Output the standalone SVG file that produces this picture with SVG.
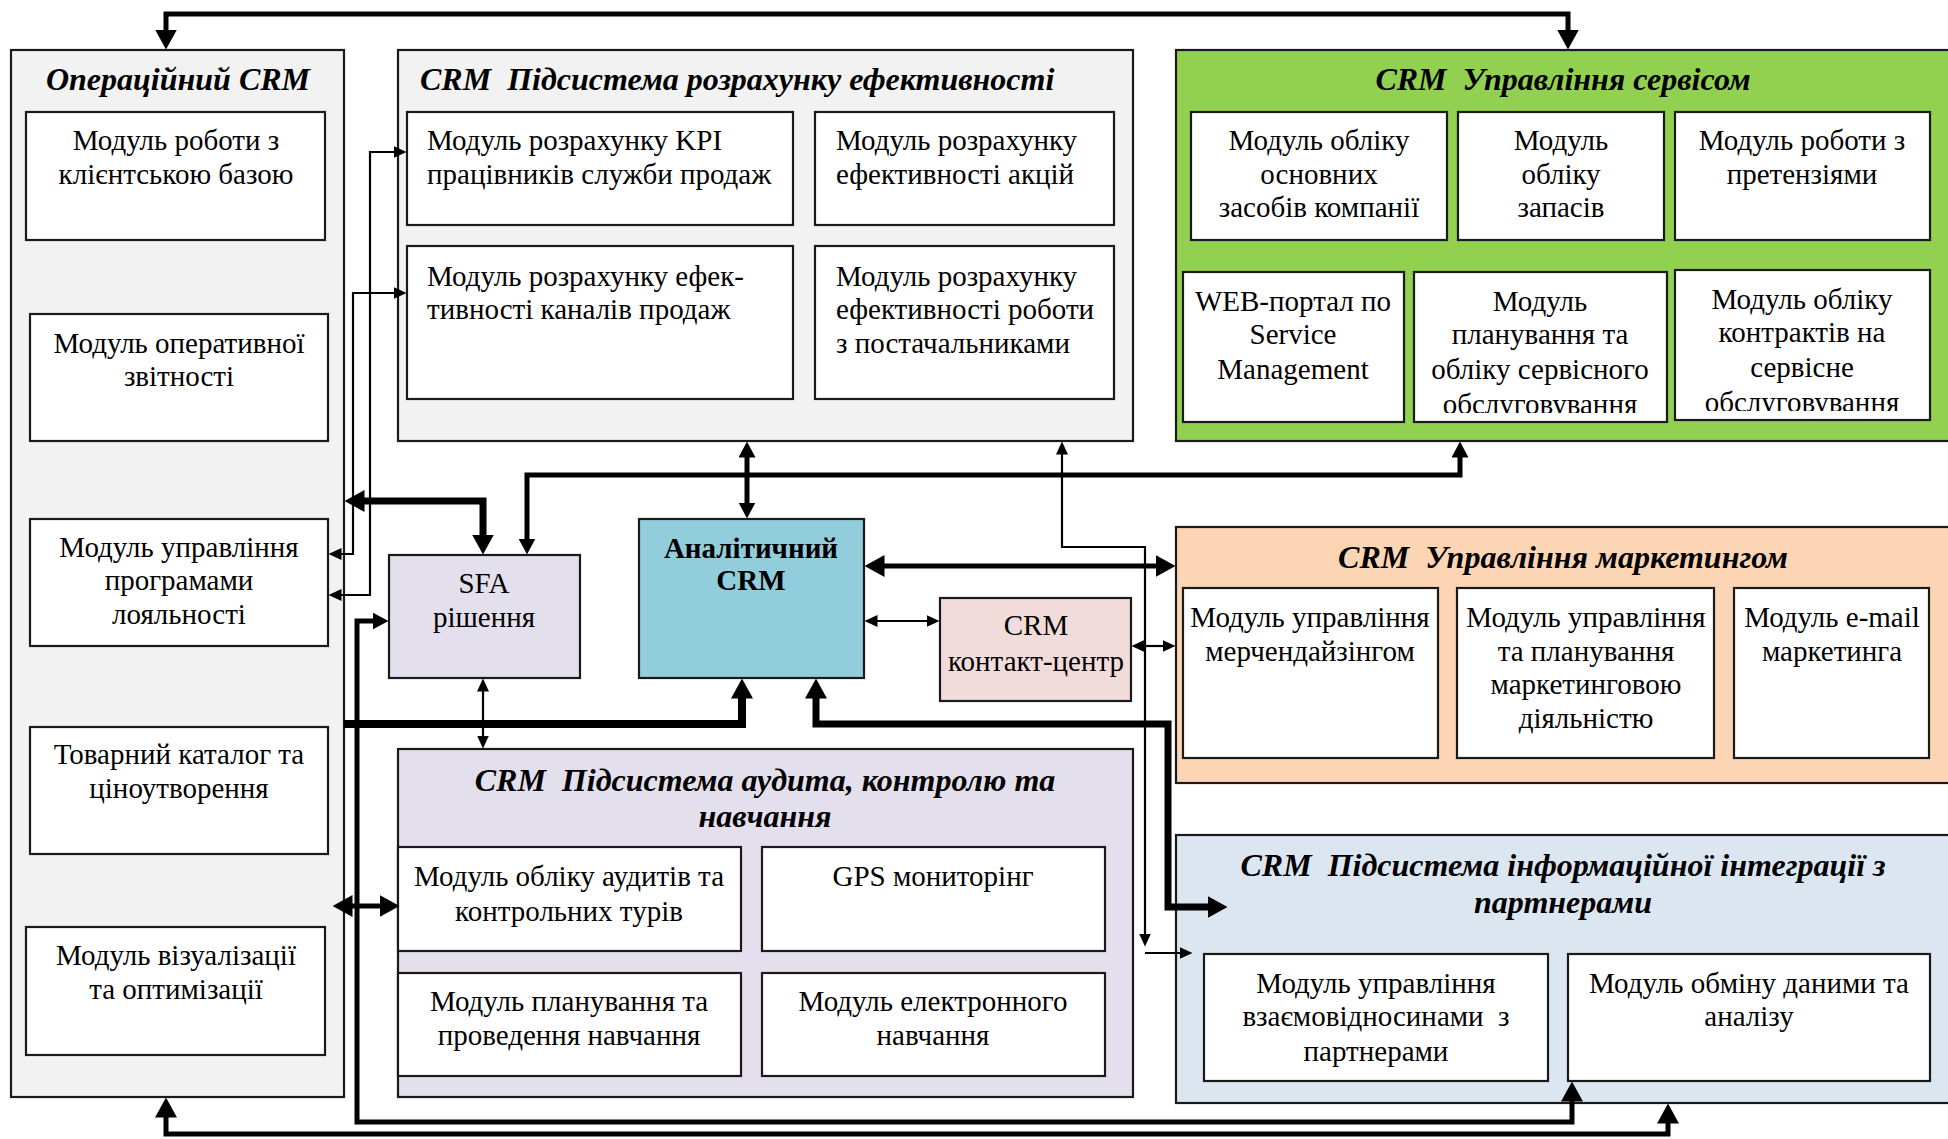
<svg xmlns="http://www.w3.org/2000/svg" width="1948" height="1139" viewBox="0 0 1948 1139">
<defs>
<style>
.t{font-family:'Liberation Serif','Times New Roman',Tinos,'DejaVu Serif',serif;font-size:29px;fill:#000}
.c{text-anchor:middle}
.h{font-weight:bold;font-style:italic;font-size:32px}
.b{font-weight:bold}
.box{fill:#fff;stroke:#1a1a1a;stroke-width:2.2}
.grp{stroke:#1a1a1a;stroke-width:2.2}
.ln{fill:none;stroke:#000;stroke-linejoin:miter}
.w2{stroke-width:2.2}
.w5{stroke-width:5}
.w7{stroke-width:7}
</style>
<marker id="aB" markerUnits="userSpaceOnUse" markerWidth="20" markerHeight="22" viewBox="0 0 20 22" refX="0.5" refY="11" orient="auto-start-reverse"><path d="M0,0L20,11L0,22z" fill="#000"/></marker>
<marker id="aM" markerUnits="userSpaceOnUse" markerWidth="16" markerHeight="17" viewBox="0 0 16 17" refX="0.5" refY="8.5" orient="auto-start-reverse"><path d="M0,0L16,8.5L0,17z" fill="#000"/></marker>
<marker id="aS" markerUnits="userSpaceOnUse" markerWidth="13" markerHeight="12" viewBox="0 0 13 12" refX="0.5" refY="6" orient="auto-start-reverse"><path d="M0,0L13,6L0,12z" fill="#000"/></marker>
<clipPath id="cg5"><rect x="1414" y="272" width="253" height="141"/></clipPath>
<clipPath id="cg6"><rect x="1675" y="270" width="255" height="141"/></clipPath>
</defs>
<rect width="1948" height="1139" fill="#fff"/>

<g id="op-crm">
<rect class="grp" x="11" y="50" width="333" height="1047" fill="#F2F2F2"/>
<text class="t h c" x="178" y="90">Операційний CRM</text>
<g id="op-client"><rect class="box" x="26" y="112" width="299" height="128"/>
<text class="t c"><tspan x="176" y="150">Модуль роботи з</tspan><tspan x="176" y="184">клієнтською базою</tspan></text></g>
<g id="op-report"><rect class="box" x="30" y="314" width="298" height="127"/>
<text class="t c"><tspan x="179" y="353">Модуль оперативної</tspan><tspan x="179" y="386">звітності</tspan></text></g>
<g id="op-loyalty"><rect class="box" x="30" y="519" width="298" height="127"/>
<text class="t c"><tspan x="179" y="557">Модуль управління</tspan><tspan x="179" y="590">програмами</tspan><tspan x="179" y="624">лояльності</tspan></text></g>
<g id="op-catalog"><rect class="box" x="30" y="727" width="298" height="127"/>
<text class="t c"><tspan x="179" y="764">Товарний каталог та</tspan><tspan x="179" y="798">ціноутворення</tspan></text></g>
<g id="op-visual"><rect class="box" x="26" y="927" width="299" height="128"/>
<text class="t c"><tspan x="176" y="965">Модуль візуалізації</tspan><tspan x="176" y="999">та оптимізації</tspan></text></g>
</g>

<g id="perf">
<rect class="grp" x="398" y="50" width="735" height="391" fill="#F2F2F2"/>
<text class="t h" x="420" y="90" xml:space="preserve">CRM  Підсистема розрахунку ефективності</text>
<g id="perf-kpi"><rect class="box" x="407" y="112" width="386" height="113"/>
<text class="t"><tspan x="427" y="150">Модуль розрахунку KPI</tspan><tspan x="427" y="184">працівників служби продаж</tspan></text></g>
<g id="perf-promo"><rect class="box" x="815" y="112" width="299" height="113"/>
<text class="t"><tspan x="836" y="150">Модуль розрахунку</tspan><tspan x="836" y="184">ефективності акцій</tspan></text></g>
<g id="perf-channels"><rect class="box" x="407" y="246" width="386" height="153"/>
<text class="t"><tspan x="427" y="286">Модуль розрахунку ефек-</tspan><tspan x="427" y="319">тивності каналів продаж</tspan></text></g>
<g id="perf-suppliers"><rect class="box" x="815" y="246" width="299" height="153"/>
<text class="t"><tspan x="836" y="286">Модуль розрахунку</tspan><tspan x="836" y="319">ефективності роботи</tspan><tspan x="836" y="353">з постачальниками</tspan></text></g>
</g>

<g id="service">
<rect class="grp" x="1176" y="50" width="780" height="391" fill="#92D050"/>
<text class="t h c" x="1563" y="90" xml:space="preserve">CRM  Управління сервісом</text>
<g id="svc-assets"><rect class="box" x="1191" y="112" width="256" height="128"/>
<text class="t c"><tspan x="1319" y="150">Модуль обліку</tspan><tspan x="1319" y="184">основних</tspan><tspan x="1319" y="217">засобів компанії</tspan></text></g>
<g id="svc-stock"><rect class="box" x="1458" y="112" width="206" height="128"/>
<text class="t c"><tspan x="1561" y="150">Модуль</tspan><tspan x="1561" y="184">обліку</tspan><tspan x="1561" y="217">запасів</tspan></text></g>
<g id="svc-claims"><rect class="box" x="1675" y="112" width="255" height="128"/>
<text class="t c"><tspan x="1802" y="150">Модуль роботи з</tspan><tspan x="1802" y="184">претензіями</tspan></text></g>
<g id="svc-web"><rect class="box" x="1183" y="272" width="221" height="150"/>
<text class="t c"><tspan x="1293" y="311">WEB-портал по</tspan><tspan x="1293" y="344">Service</tspan><tspan x="1293" y="379">Management</tspan></text></g>
<g id="svc-plan"><rect class="box" x="1414" y="272" width="253" height="150"/>
<text class="t c" clip-path="url(#cg5)"><tspan x="1540" y="311">Модуль</tspan><tspan x="1540" y="344">планування та</tspan><tspan x="1540" y="379">обліку сервісного</tspan><tspan x="1540" y="414">обслуговування</tspan></text></g>
<g id="svc-contracts"><rect class="box" x="1675" y="270" width="255" height="150"/>
<text class="t c" clip-path="url(#cg6)"><tspan x="1802" y="309">Модуль обліку</tspan><tspan x="1802" y="342">контрактів на</tspan><tspan x="1802" y="377">сервісне</tspan><tspan x="1802" y="412">обслуговування</tspan></text></g>
</g>

<g id="marketing">
<rect class="grp" x="1176" y="527" width="780" height="256" fill="#FCD5B4"/>
<text class="t h c" x="1563" y="568" xml:space="preserve">CRM  Управління маркетингом</text>
<g id="mkt-merch"><rect class="box" x="1183" y="588" width="255" height="170"/>
<text class="t c"><tspan x="1310" y="627">Модуль управління</tspan><tspan x="1310" y="661">мерчендайзінгом</tspan></text></g>
<g id="mkt-plan"><rect class="box" x="1457" y="588" width="257" height="170"/>
<text class="t c"><tspan x="1586" y="627">Модуль управління</tspan><tspan x="1586" y="661">та планування</tspan><tspan x="1586" y="694">маркетинговою</tspan><tspan x="1586" y="728">діяльністю</tspan></text></g>
<g id="mkt-email"><rect class="box" x="1734" y="588" width="195" height="170"/>
<text class="t c"><tspan x="1832" y="627">Модуль e-mail</tspan><tspan x="1832" y="661">маркетинга</tspan></text></g>
</g>

<g id="integration">
<rect class="grp" x="1176" y="835" width="780" height="268" fill="#DCE6F1"/>
<text class="t h c"><tspan x="1563" y="876" xml:space="preserve">CRM  Підсистема інформаційної інтеграції з</tspan><tspan x="1563" y="913">партнерами</tspan></text>
<g id="int-partners"><rect class="box" x="1204" y="954" width="344" height="127"/>
<text class="t c" xml:space="preserve"><tspan x="1376" y="993">Модуль управління</tspan><tspan x="1376" y="1026">взаємовідносинами  з</tspan><tspan x="1376" y="1061">партнерами</tspan></text></g>
<g id="int-exchange"><rect class="box" x="1568" y="954" width="362" height="127"/>
<text class="t c"><tspan x="1749" y="993">Модуль обміну даними та</tspan><tspan x="1749" y="1026">аналізу</tspan></text></g>
</g>

<g id="audit">
<rect class="grp" x="398" y="749" width="735" height="348" fill="#E4DFEC"/>
<text class="t h c"><tspan x="765" y="791" xml:space="preserve">CRM  Підсистема аудита, контролю та</tspan><tspan x="765" y="827">навчання</tspan></text>
<g id="aud-tours"><rect class="box" x="398" y="847" width="343" height="104"/>
<text class="t c"><tspan x="569" y="886">Модуль обліку аудитів та</tspan><tspan x="569" y="921">контрольних турів</tspan></text></g>
<g id="aud-gps"><rect class="box" x="762" y="847" width="343" height="104"/>
<text class="t c" x="933" y="886">GPS мониторінг</text></g>
<g id="aud-training"><rect class="box" x="398" y="973" width="343" height="103"/>
<text class="t c"><tspan x="569" y="1011">Модуль планування та</tspan><tspan x="569" y="1045">проведення навчання</tspan></text></g>
<g id="aud-elearn"><rect class="box" x="762" y="973" width="343" height="103"/>
<text class="t c"><tspan x="933" y="1011">Модуль електронного</tspan><tspan x="933" y="1045">навчання</tspan></text></g>
</g>

<g id="sfa">
<rect class="grp" x="389" y="555" width="191" height="123" fill="#E4DFEC"/>
<text class="t c"><tspan x="484" y="593">SFA</tspan><tspan x="484" y="627">рішення</tspan></text>
</g>
<g id="analytic">
<rect class="grp" x="639" y="519" width="225" height="159" fill="#92CDDC"/>
<text class="t c b"><tspan x="751" y="558">Аналітичний</tspan><tspan x="751" y="590">CRM</tspan></text>
</g>
<g id="contact">
<rect class="grp" x="940" y="598" width="191" height="103" fill="#F2DCDB"/>
<text class="t c"><tspan x="1036" y="635">CRM</tspan><tspan x="1036" y="671">контакт-центр</tspan></text>
</g>

<g id="connectors">
<path class="ln w5" d="M166,30V14H1568V30" marker-start="url(#aB)" marker-end="url(#aB)"/>
<path class="ln w5" d="M166,1117V1134H1668V1123" marker-start="url(#aB)" marker-end="url(#aB)"/>
<path class="ln w5" d="M373,621H357V1122H1572V1101" marker-start="url(#aM)" marker-end="url(#aB)"/>
<path class="ln" style="stroke-width:8" d="M344,724H742V698" marker-end="url(#aB)"/>
<path class="ln w7" d="M816,698V724H1168V907H1208" marker-start="url(#aB)" marker-end="url(#aB)"/>
<path class="ln w5" d="M884,566H1156" marker-start="url(#aB)" marker-end="url(#aB)"/>
<path class="ln w2" d="M877,621H927" marker-start="url(#aS)" marker-end="url(#aS)"/>
<path class="ln w2" d="M1144,646H1163" marker-start="url(#aS)" marker-end="url(#aS)"/>
<path class="ln w5" d="M747,457V503" marker-start="url(#aM)" marker-end="url(#aM)"/>
<path class="ln w5" d="M527,539V475H1460V457" marker-start="url(#aM)" marker-end="url(#aM)"/>
<path class="ln w7" d="M364,501H483V535" marker-start="url(#aB)" marker-end="url(#aB)"/>
<path class="ln w2" d="M1062,454V547H1145V934" marker-start="url(#aS)" marker-end="url(#aS)"/>
<path class="ln w2" d="M1145,953H1180" marker-end="url(#aS)"/>
<path class="ln w2" d="M394,152H370V595H341" marker-start="url(#aS)" marker-end="url(#aS)"/>
<path class="ln w2" d="M394,293H353V554H341" marker-start="url(#aS)" marker-end="url(#aS)"/>
<path class="ln w5" d="M352,906H380" marker-start="url(#aB)" marker-end="url(#aB)"/>
<path class="ln w2" d="M483,691V736" marker-start="url(#aS)" marker-end="url(#aS)"/>
</g>
</svg>
